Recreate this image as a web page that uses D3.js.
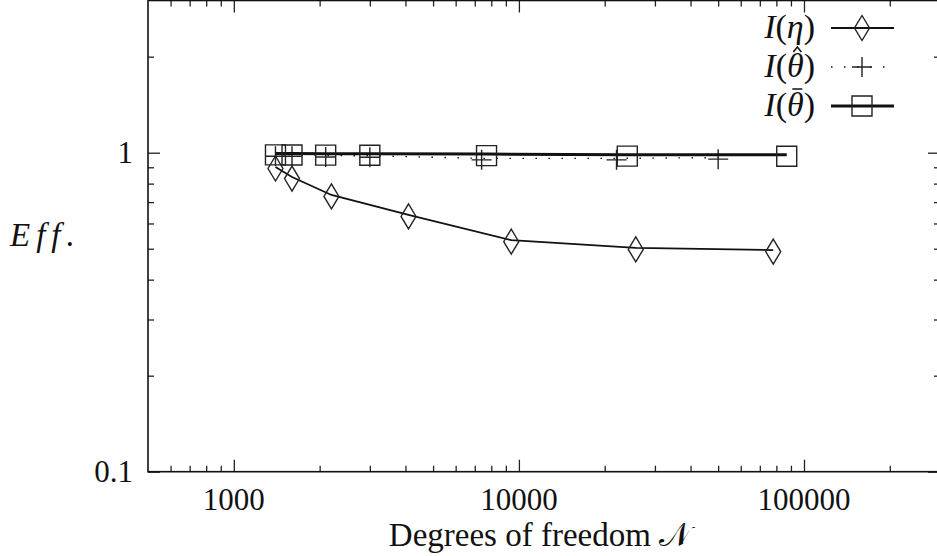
<!DOCTYPE html>
<html>
<head>
<meta charset="utf-8">
<script src="https://cdn.jsdelivr.net/npm/d3@7"></script>
<style>
  body { margin: 0; background: #fff; }
</style>
</head>
<body>
<div id="chart"></div>
<script>
// data
const etaN = [1400, 1600, 2200, 4100, 9400, 25700, 78000]
const etaEff = [0.902, 0.839, 0.737, 0.638, 0.532, 0.503, 0.495]
const hatN = [1400, 1600, 2100, 3000, 7400, 22000, 50000]
const hatEff = [0.985, 0.985, 0.98, 0.978, 0.96, 0.96, 0.965]
const barN = [1400, 1600, 2100, 3000, 7700, 24000, 87000]
const barEff = [0.995, 0.994, 0.993, 0.992, 0.99, 0.986, 0.985]

// ticks
const xMajor = [1000, 10000, 100000]
const xMinor = [600, 700, 800, 900, 2000, 3000, 4000, 5000, 6000, 7000, 8000, 9000,
  20000, 30000, 40000, 50000, 60000, 70000, 80000, 90000, 200000]
const yMajor = [0.1, 1]
const yMajorLabels = ["0.1", "1"]
const yMinor = [0.2, 0.3, 0.4, 0.5, 0.6, 0.7, 0.8, 0.9, 2]

const width = 937
const height = 556
const plotLeft = 148, plotRight = 940, plotTop = 0.5, plotBottom = 471.7
const serif = '"Liberation Serif"'
const fs = 31

let svg = d3.select("#chart")
  .append("svg")
  .attr("width", width)
  .attr("height", height)

const x = d3.scaleLog().domain([500, 300000]).range([plotLeft, plotRight])
const y = d3.scaleLog().domain([0.1, 3]).range([plotBottom, plotTop])

// ticks, all pointing inward like gnuplot
function tickAxis(axis, values, size, tx, ty) {
  svg.append("g")
    .attr("transform", `translate(${tx},${ty})`)
    .call(axis.tickValues(values).tickSize(size).tickSizeOuter(0).tickFormat(""))
    .call(g => g.select(".domain").remove())
    .call(g => g.selectAll("line").attr("stroke", "#222").attr("stroke-width", 1.3))
}
tickAxis(d3.axisBottom(x), xMajor, -12, 0, plotBottom)
tickAxis(d3.axisBottom(x), xMinor, -6, 0, plotBottom)
tickAxis(d3.axisTop(x), xMajor, -12, 0, plotTop)
tickAxis(d3.axisTop(x), xMinor, -6, 0, plotTop)
tickAxis(d3.axisLeft(y), yMajor, -12, plotLeft, 0)
tickAxis(d3.axisLeft(y), yMinor, -6, plotLeft, 0)
tickAxis(d3.axisRight(y), yMajor, -12, plotRight, 0)
tickAxis(d3.axisRight(y), yMinor, -6, plotRight, 0)

// frame
svg.append("rect")
  .attr("x", plotLeft).attr("y", plotTop)
  .attr("width", plotRight - plotLeft).attr("height", plotBottom - plotTop)
  .attr("fill", "none").attr("stroke", "#111").attr("stroke-width", 1.6)

// helper for text in the serif font
function label(sel) {
  return sel.style("font-family", serif).attr("font-size", fs).attr("fill", "#111")
}

// tick labels
svg.append("g").selectAll("text")
  .data(xMajor).join("text")
  .attr("x", d => x(d)).attr("y", plotBottom + 38)
  .attr("text-anchor", "middle")
  .call(label)
  .text(d => d)
svg.append("g").selectAll("text")
  .data(yMajor).join("text")
  .attr("x", plotLeft - 15).attr("y", d => y(d) + 10)
  .attr("text-anchor", "end")
  .call(label)
  .text((d, i) => yMajorLabels[i])

// axis titles
let xt = svg.append("text")
  .attr("x", 540).attr("y", 546)
  .attr("text-anchor", "middle")
  .call(label)
  .attr("font-size", 33)
xt.append("tspan").text("Degrees of freedom ")
xt.append("tspan").text("𝒩")

svg.append("text")
  .attr("x", 10).attr("y", 246)
  .call(label)
  .attr("font-size", 33)
  .attr("font-style", "italic")
  .attr("letter-spacing", 6)
  .text("Eff.")

// markers
const diamond = "M0,-12.5L7.5,0L0,12.5L-7.5,0Z"
const square = "M-10,-10H10V10H-10Z"
const plus = "M-10,0H10M0,-10V10"

function drawSeries(xs, ys, style, shape) {
  let pts = xs.map((d, i) => [x(d), y(ys[i])])
  svg.append("path")
    .attr("d", d3.line()(pts))
    .attr("fill", "none")
    .attr("stroke", "#111")
    .attr("stroke-width", style.width)
    .attr("stroke-dasharray", style.dash)
  svg.append("g").selectAll("path")
    .data(pts).join("path")
    .attr("transform", d => `translate(${d[0]},${d[1] + 1.5})`)
    .attr("d", shape)
    .attr("fill", "none").attr("stroke", "#222").attr("stroke-width", 1.4)
}

const etaStyle = { width: 1.8, dash: null }
const hatStyle = { width: 1.4, dash: "1.5,11.5" }
const barStyle = { width: 3, dash: null }

drawSeries(etaN, etaEff, etaStyle, diamond)
drawSeries(hatN, hatEff, hatStyle, plus)
drawSeries(barN, barEff, barStyle, square)

// legend
const legend = [
  { sym: "η", accent: null, style: etaStyle, shape: diamond },
  { sym: "θ", accent: "hat", style: hatStyle, shape: plus },
  { sym: "θ", accent: "bar", style: barStyle, shape: square }
]
legend.forEach((l, i) => {
  let cy = 28 + i * 39
  let t = svg.append("text")
    .attr("x", 815).attr("y", cy + 10)
    .attr("text-anchor", "end")
    .call(label)
    .attr("font-size", 34)
  t.append("tspan").attr("font-style", "italic").text("I")
  t.append("tspan").text("(")
  t.append("tspan").attr("font-style", "italic").text(l.sym)
  t.append("tspan").text(")")
  if (l.accent) {
    // put the accent over the theta (char index 2)
    let a = t.node().getStartPositionOfChar(2).x
    let b = t.node().getEndPositionOfChar(2).x
    let cx = (a + b) / 2 + 2
    let top = cy - 15
    let d = l.accent === "hat"
      ? `M${cx - 4},${top}L${cx},${top - 5}L${cx + 4},${top}`
      : `M${cx - 5},${top - 2}H${cx + 5}`
    svg.append("path").attr("d", d)
      .attr("fill", "none").attr("stroke", "#111").attr("stroke-width", 1.5)
  }
  svg.append("line")
    .attr("x1", 831).attr("x2", 894).attr("y1", cy).attr("y2", cy)
    .attr("stroke", "#111").attr("stroke-width", l.style.width)
    .attr("stroke-dasharray", l.style.dash)
  svg.append("path")
    .attr("transform", `translate(862,${cy})`)
    .attr("d", l.shape)
    .attr("fill", "none").attr("stroke", "#222").attr("stroke-width", 1.4)
})
</script>
</body>
</html>
